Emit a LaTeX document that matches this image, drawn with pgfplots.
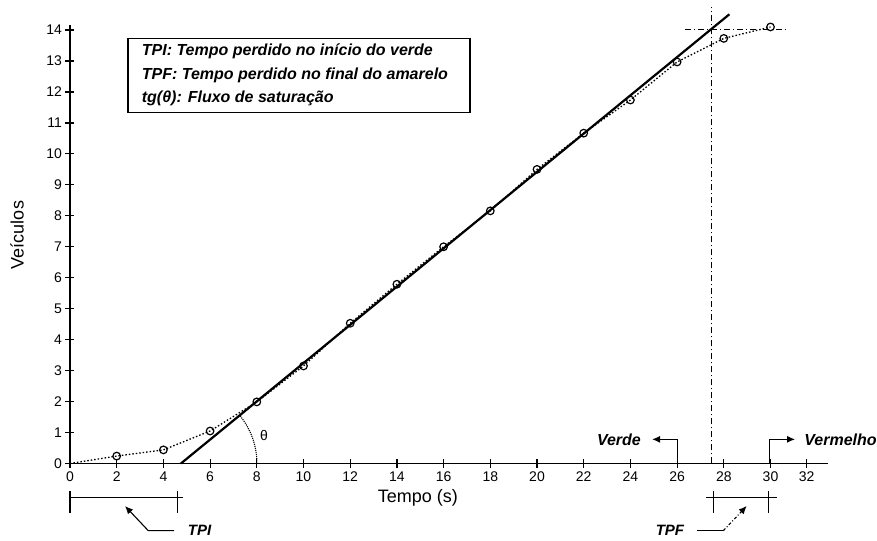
\documentclass[border=0pt]{standalone}
\usepackage{pgfplots}
\pgfplotsset{compat=1.18}
\usepackage{fontspec}
\setmainfont{Liberation Sans}
\usetikzlibrary{arrows.meta}

\begin{document}
\begin{tikzpicture}
\useasboundingbox (-70bp,-77.5bp) rectangle (807bp,463.5bp);
\begin{axis}[
  at={(0,0)}, anchor=origin,
  x=23.35bp, y=30.96bp,
  xmin=0, xmax=32.45, ymin=0, ymax=14.16,
  axis lines*=left,
  axis line style={line width=1.2bp},
  clip=false,
  xtick={0,2,4,6,8,10,12,14,16,18,20,22,24,26,28,30,31.55},
  xticklabels={0,2,4,6,8,10,12,14,16,18,20,22,24,26,28,30,32},
  ytick={0,1,2,3,4,5,6,7,8,9,10,11,12,13,14},
  tick align=center,
  major tick length=9bp,
  tick style={line width=1.2bp, black},
  ticklabel style={font=\fontsize{14bp}{16bp}\selectfont},
  /pgf/number format/assume math mode=true,
]
% dotted curve through observations
\addplot[black, line width=1.3bp, dash pattern=on 1.5bp off 2bp] coordinates {
(0,0) (2,0.24) (4,0.44) (6,1.05) (8,1.99) (10,3.15) (12,4.53) (14,5.79) (16,7.0) (18,8.16) (20,9.5) (22,10.67) (24,11.74) (26,12.97) (28,13.73) (30,14.1)};
% observation markers
\addplot[black, only marks, mark=o, mark size=3.8bp, mark options={solid, line width=1.2bp}] coordinates {
(2,0.24) (4,0.44) (6,1.05) (8,1.99) (10,3.15) (12,4.53) (14,5.79) (16,7.0) (18,8.16) (20,9.5) (22,10.67) (24,11.74) (26,12.97) (28,13.73) (30,14.1)};
% saturation flow line
\addplot[black, line width=2.2bp] coordinates {(4.75,0) (28.24,14.51)};
% dash-dot guides
\addplot[black, line width=1.1bp, dash pattern=on 6bp off 3bp on 1bp off 3bp] coordinates {(27.48,0) (27.48,14.73)};
\addplot[black, line width=1.1bp, dash pattern=on 6bp off 3bp on 1bp off 3bp] coordinates {(26.34,14.02) (30.75,14.02)};

% angle
\draw[black, densely dotted, line width=1.1bp] (axis cs:8.005,0) arc[start angle=0, end angle=39.3, radius=76bp];
\node[font=\fontsize{14bp}{16bp}\selectfont] at (axis cs:8.31,0.92) {θ};

% Verde / Vermelho
\draw[black, line width=1.1bp, -{Latex[length=8bp,width=7bp]}] (axis cs:26,0) |- (axis cs:24.93,0.78);
\node[anchor=east, font=\fontsize{16bp}{18bp}\selectfont\bfseries\itshape] at (axis cs:24.6,0.78) {Verde};
\draw[black, line width=1.1bp, -{Latex[length=8bp,width=7bp]}] (axis cs:29.95,0) |- (axis cs:31.05,0.78);
\node[anchor=west, font=\fontsize{16bp}{18bp}\selectfont\bfseries\itshape] at (axis cs:31.3,0.78) {Vermelho};

% TPI bracket
\draw[black, line width=1.1bp] (axis cs:0,-1.092) -- (axis cs:4.85,-1.092);
\draw[black, line width=1.1bp] (axis cs:0,-0.888) -- (axis cs:0,-1.599);
\draw[black, line width=1.1bp] (axis cs:4.6,-0.888) -- (axis cs:4.6,-1.599);
\draw[black, line width=1.1bp, -{Latex[length=8bp,width=7bp]}] (axis cs:4.454,-2.17) -- (axis cs:3.353,-2.17) -- (axis cs:2.355,-1.373);
\node[anchor=west, font=\fontsize{15bp}{17bp}\selectfont\bfseries\itshape] at (axis cs:4.9,-2.17) {TPI};

% TPF bracket
\draw[black, line width=1.1bp] (axis cs:27.24,-1.092) -- (axis cs:30.27,-1.092);
\draw[black, line width=1.1bp] (axis cs:27.55,-0.888) -- (axis cs:27.55,-1.599);
\draw[black, line width=1.1bp] (axis cs:29.91,-0.888) -- (axis cs:29.91,-1.599);
\draw[black, line width=1.1bp] (axis cs:26.84,-2.17) -- (axis cs:27.98,-2.17);
\draw[black, line width=1.1bp, dash pattern=on 3bp off 2bp on 1bp off 2bp, -{Latex[length=8bp,width=7bp]}] (axis cs:27.98,-2.17) -- (axis cs:28.98,-1.373);
\node[anchor=east, font=\fontsize{15bp}{17bp}\selectfont\bfseries\itshape] at (axis cs:26.45,-2.17) {TPF};

% legend box
\draw[black, line width=1.1bp] (axis cs:2.484,13.74) rectangle (axis cs:17.13,11.35);
\node[anchor=north west, inner sep=0pt, align=left, font=\fontsize{16bp}{23.5bp}\selectfont\bfseries\itshape] at (axis cs:3.07,13.55)
{TPI: Tempo perdido no início do verde\\TPF: Tempo perdido no final do amarelo\\tg(θ): Fluxo de saturação};

% axis titles
\node[rotate=90, font=\fontsize{18bp}{20bp}\selectfont] at (axis cs:-2.27,7.38) {Veículos};
\node[font=\fontsize{18bp}{20bp}\selectfont] at (axis cs:14.9,-1.114) {Tempo (s)};
\end{axis}
\end{tikzpicture}
\end{document}
